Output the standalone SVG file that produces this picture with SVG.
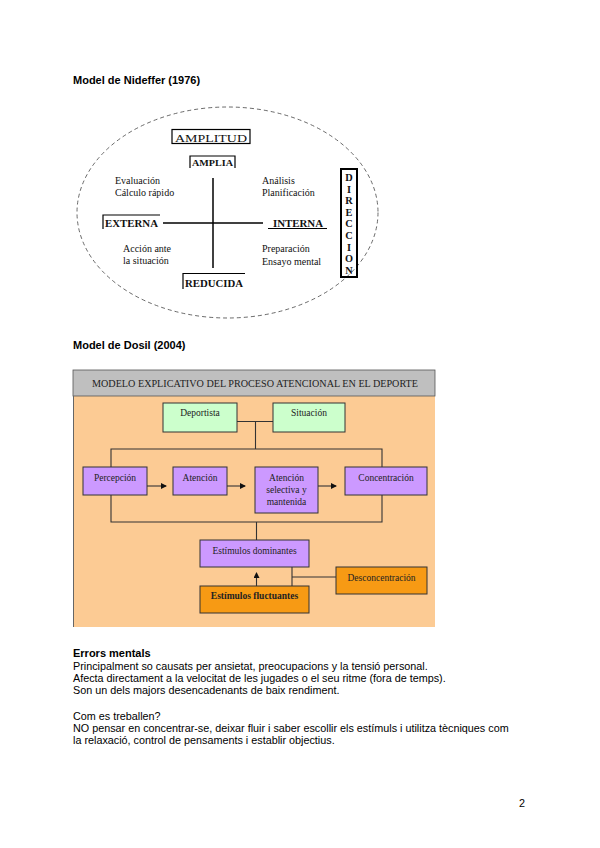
<svg xmlns="http://www.w3.org/2000/svg" width="600" height="848" viewBox="0 0 600 848">
<style>
.h{font-family:"Liberation Sans",Arial,sans-serif;font-size:11px;font-weight:bold;fill:#000}
.p{font-family:"Liberation Sans",Arial,sans-serif;font-size:10.8px;fill:#000}
.s{font-family:"Liberation Serif","Times New Roman",serif;font-size:10px;fill:#111}
.sb{font-family:"Liberation Serif","Times New Roman",serif;font-weight:bold;fill:#111}
.fr{fill:none;stroke:#000;stroke-width:1.2}
.ax{stroke:#000;stroke-width:1.5}
.ds{font-family:"Liberation Serif","Times New Roman",serif;font-size:9.5px;fill:#222}
.bx{stroke:#333;stroke-width:1}
.pu{fill:#CC99FF}
.gr{fill:#CCFFCC}
.or{fill:#F79A14}
.ln{fill:none;stroke:#333;stroke-width:1.1}
</style>
<defs>
<marker id="ar" markerWidth="6" markerHeight="6" refX="5" refY="3" orient="auto" markerUnits="userSpaceOnUse">
<path d="M0,0 L6,3 L0,6 Z" fill="#111"/>
</marker>
</defs>
<rect width="600" height="848" fill="#fff"/>

<text class="h" x="73" y="84">Model de Nideffer (1976)</text>

<g id="nideffer">
<ellipse cx="227.5" cy="212.5" rx="150.5" ry="105.5" fill="none" stroke="#444" stroke-width="0.8" stroke-dasharray="4,3"/>
<g id="amplitud">
<rect x="172" y="129.5" width="78" height="14" class="fr"/>
<text class="s" x="175" y="142" font-size="13" textLength="72" lengthAdjust="spacingAndGlyphs">AMPLITUD</text>
</g>
<g id="amplia">
<path d="M190,168 V156 H235 V168" class="fr" stroke-width="1"/>
<text class="sb" x="192" y="166" font-size="8.5" textLength="41" lengthAdjust="spacingAndGlyphs">AMPLIA</text>
</g>
<g id="axes">
<line x1="213" y1="178" x2="213" y2="268" class="ax"/>
<line x1="163" y1="223" x2="263" y2="223" class="ax"/>
</g>
<g id="externa">
<path d="M103,229 V215 H160" class="fr" stroke-width="1"/>
<text class="sb" x="105" y="227" font-size="9.5" textLength="53" lengthAdjust="spacingAndGlyphs">EXTERNA</text>
</g>
<g id="interna">
<line x1="268" y1="228.5" x2="327" y2="228.5" stroke="#000" stroke-width="1"/>
<text class="sb" x="273" y="226.5" font-size="9.5" textLength="50" lengthAdjust="spacingAndGlyphs">INTERNA</text>
</g>
<g id="reducida">
<path d="M183,289 V273.5 H245" class="fr" stroke-width="1"/>
<text class="sb" x="185" y="287" font-size="9.5" textLength="58" lengthAdjust="spacingAndGlyphs">REDUCIDA</text>
</g>
<g id="q1">
<text class="s" x="115" y="184">Evaluación</text>
<text class="s" x="115" y="196">Cálculo rápido</text>
</g>
<g id="q2">
<text class="s" x="262" y="184">Análisis</text>
<text class="s" x="262" y="196">Planificación</text>
</g>
<g id="q3">
<text class="s" x="123" y="252">Acción ante</text>
<text class="s" x="123" y="264">la situación</text>
</g>
<g id="q4">
<text class="s" x="262" y="252">Preparación</text>
<text class="s" x="262" y="265">Ensayo mental</text>
</g>
<g id="direccion">
<rect x="341" y="169" width="16" height="108" fill="none" stroke="#000" stroke-width="2"/>
<g class="sb" font-size="10.3" text-anchor="middle">
<text x="349" y="181">D</text>
<text x="349" y="192.6">I</text>
<text x="349" y="204.2">R</text>
<text x="349" y="215.8">E</text>
<text x="349" y="227.4">C</text>
<text x="349" y="239">C</text>
<text x="349" y="250.6">I</text>
<text x="349" y="262.2">O</text>
<text x="349" y="273.8">N</text>
</g>
</g>
</g>

<text class="h" x="73" y="349">Model de Dosil (2004)</text>

<g id="dosil">
<rect x="73" y="370" width="362" height="257" fill="#FCCB94"/>
<rect x="73" y="370" width="362" height="26" fill="#BFBFBF" stroke="#555" stroke-width="0.8"/>
<line x1="73.5" y1="396" x2="73.5" y2="627" stroke="#666" stroke-width="1"/>
<text class="ds" x="92" y="387" font-size="9" textLength="326" lengthAdjust="spacingAndGlyphs">MODELO EXPLICATIVO DEL PROCESO ATENCIONAL EN EL DEPORTE</text>

<g id="connectors">
<path d="M237,421.5 H273" class="ln"/>
<path d="M255.5,421.5 V449 M111,467 V449 H382 V467" class="ln"/>
<path d="M111,495 V522 H382 V495 M256.5,522 V540" class="ln"/>
<path d="M147,486 H166" class="ln" marker-end="url(#ar)"/>
<path d="M227,486 H245" class="ln" marker-end="url(#ar)"/>
<path d="M318,486 H336" class="ln" marker-end="url(#ar)"/>
<path d="M256.5,586 V573" class="ln" marker-end="url(#ar)"/>
<path d="M292,567 V586 M292,577 H336" class="ln"/>
</g>

<g id="deportista"><rect x="163" y="403" width="74" height="29" class="gr bx"/><text class="ds" x="200" y="416" text-anchor="middle">Deportista</text></g>
<g id="situacion"><rect x="273" y="403" width="72" height="29" class="gr bx"/><text class="ds" x="309" y="416" text-anchor="middle">Situación</text></g>
<g id="percepcion"><rect x="83" y="467" width="64" height="28" class="pu bx"/><text class="ds" x="115" y="481" text-anchor="middle">Percepción</text></g>
<g id="atencion"><rect x="173" y="467" width="54" height="28" class="pu bx"/><text class="ds" x="200" y="481" text-anchor="middle">Atención</text></g>
<g id="atencion-sel"><rect x="255" y="467" width="63" height="46" class="pu bx"/>
<text class="ds" x="286.5" y="481" text-anchor="middle">Atención</text>
<text class="ds" x="286.5" y="493" text-anchor="middle">selectiva y</text>
<text class="ds" x="286.5" y="505" text-anchor="middle">mantenida</text></g>
<g id="concentracion"><rect x="345" y="467" width="82" height="28" class="pu bx"/><text class="ds" x="386" y="481" text-anchor="middle">Concentración</text></g>
<g id="dominantes"><rect x="200" y="540" width="109" height="27" class="pu bx"/><text class="ds" x="254.5" y="554" text-anchor="middle">Estímulos dominantes</text></g>
<g id="fluctuantes"><rect x="200" y="586" width="109" height="27" class="or bx"/><text class="ds" x="254.5" y="599" text-anchor="middle" font-weight="bold">Estímulos fluctuantes</text></g>
<g id="desconcentracion"><rect x="336" y="567" width="91" height="27" class="or bx"/><text class="ds" x="381.5" y="581" text-anchor="middle">Desconcentración</text></g>
</g>

<g id="text">
<text class="h" x="73" y="657">Errors mentals</text>
<text class="p" x="73" y="670">Principalment so causats per ansietat, preocupacions y la tensió personal.</text>
<text class="p" x="73" y="682">Afecta directament a la velocitat de les jugades o el seu ritme (fora de temps).</text>
<text class="p" x="73" y="694">Son un dels majors desencadenants de baix rendiment.</text>
<text class="p" x="73" y="720">Com es treballen?</text>
<text class="p" x="73" y="732">NO pensar en concentrar-se, deixar fluir i saber escollir els estímuls i utilitza tècniques com</text>
<text class="p" x="73" y="744">la relaxació, control de pensaments i establir objectius.</text>
<text class="p" x="519" y="807">2</text>
</g>
</svg>
